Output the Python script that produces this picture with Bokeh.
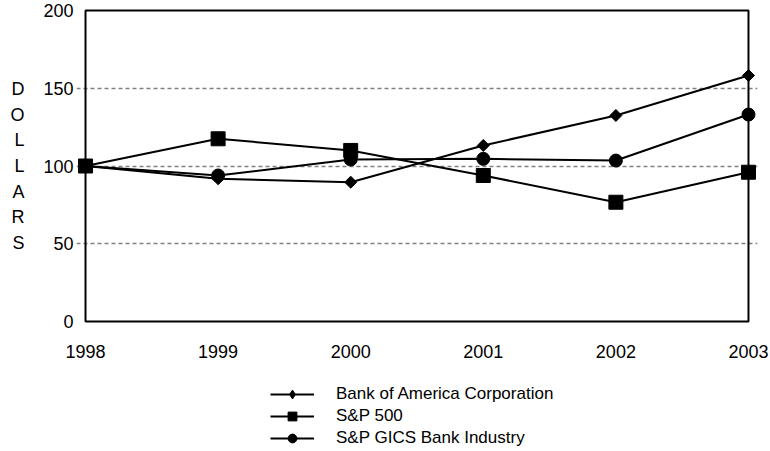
import math
from bokeh.plotting import figure
from bokeh.layouts import column
from bokeh.models import Legend, LegendItem, FixedTicker, Range1d
from bokeh.embed import file_html
from bokeh.resources import INLINE

years = [1998, 1999, 2000, 2001, 2002, 2003]
bac = [100, 91.8, 89.6, 113.2, 132.5, 158.2]
sp500 = [100, 117.5, 110, 93.9, 76.7, 96]
bank = [100, 93.9, 104.2, 104.6, 103.5, 133.1]
y_ticks = [0, 50, 100, 150, 200]
grid_ticks = [50, 100, 150]
labels = ["Bank of America Corporation", "S&P 500", "S&P GICS Bank Industry"]
y_title = "DOLLARS"

FONT = "Liberation Sans"
XPAD = 0.068
YPAD = 1.93

p = figure(width=770, height=365, output_backend="svg", toolbar_location=None,
           x_range=Range1d(years[0] - XPAD, years[-1] + XPAD),
           y_range=Range1d(y_ticks[0] - YPAD, y_ticks[-1] + YPAD),
           min_border_left=76, min_border_right=13, min_border_top=7, min_border_bottom=41)
p.outline_line_color = None

p.xgrid.grid_line_color = None
p.ygrid.ticker = FixedTicker(ticks=grid_ticks)
p.ygrid.grid_line_color = "#808080"
p.ygrid.grid_line_dash = "4 3"
p.ygrid.grid_line_width = 1.5

p.xaxis.ticker = FixedTicker(ticks=years)
p.yaxis.ticker = FixedTicker(ticks=y_ticks)
for ax in (p.xaxis[0], p.yaxis[0]):
    ax.axis_line_color = None
    ax.major_tick_line_color = None
    ax.minor_tick_line_color = None
    ax.major_tick_out = 0
    ax.major_tick_in = 0
    ax.minor_tick_out = 0
    ax.major_label_text_font = FONT
    ax.major_label_text_font_size = "18px"
    ax.major_label_text_color = "black"
p.xaxis.major_label_standoff = 20
p.yaxis.major_label_standoff = 3

p.yaxis.axis_label = "\n".join(y_title)
p.yaxis.axis_label_orientation = "horizontal"
p.yaxis.axis_label_text_font = FONT
p.yaxis.axis_label_text_font_size = "18px"
p.yaxis.axis_label_text_font_style = "normal"
p.yaxis.axis_label_text_color = "black"
p.yaxis.axis_label_text_align = "center"
p.yaxis.axis_label_text_line_height = 1.28
p.yaxis.axis_label_standoff = 16

# plot box
p.quad(left=years[0], right=years[-1], bottom=y_ticks[0], top=y_ticks[-1],
       fill_color=None, line_color="black", line_width=2)

styles = [
    dict(marker="square", size=8.5, angle=math.pi / 4),
    dict(marker="square", size=14, angle=0),
    dict(marker="circle", size=13, angle=0),
]
legend_styles = [
    dict(marker="diamond", size=13),
    dict(marker="square", size=14),
    dict(marker="circle", size=13),
]
series = [bac, sp500, bank]
for vals, st in zip(series, styles):
    p.line(years, vals, line_color="black", line_width=2)
    p.scatter(years, vals, marker=st["marker"], size=st["size"], angle=st["angle"],
              color="black")

# legend panel (its frame is aligned with the main plot's frame by the column layout)
q = figure(width=770, height=86, output_backend="svg", toolbar_location=None,
           x_range=Range1d(0, 1), y_range=Range1d(0, 1),
           x_axis_type=None, y_axis_type=None,
           min_border_left=76, min_border_right=13, min_border_top=0, min_border_bottom=0)
q.outline_line_color = None
q.xgrid.grid_line_color = None
q.ygrid.grid_line_color = None

items = []
for lab, vals, st in zip(labels, series, legend_styles):
    lr = q.line(years, vals, line_color="black", line_width=2, visible=False)
    sr = q.scatter(years, vals, marker=st["marker"], size=st["size"],
                   color="black", visible=False)
    items.append(LegendItem(label=lab, renderers=[lr, sr]))

legend = Legend(items=items, location=(194, 2), orientation="vertical")
legend.border_line_color = None
legend.background_fill_alpha = 0
legend.label_text_font = FONT
legend.label_text_font_size = "17px"
legend.label_text_color = "black"
legend.glyph_width = 44
legend.glyph_height = 22
legend.label_height = 22
legend.label_standoff = 22
legend.spacing = 0
legend.padding = 2
legend.margin = 0
q.add_layout(legend, "center")

layout = column(p, q, spacing=0)
open("out.html", "w").write(file_html(layout, INLINE))
